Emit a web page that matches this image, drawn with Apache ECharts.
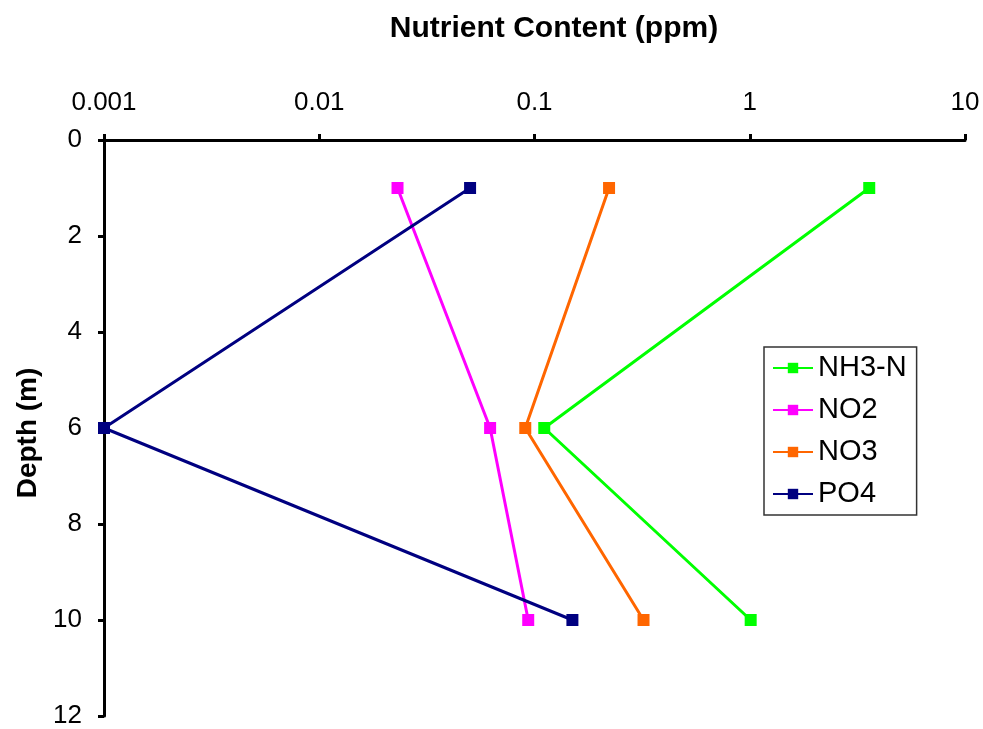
<!DOCTYPE html>
<html>
<head>
<meta charset="utf-8">
<script src="https://cdn.jsdelivr.net/npm/echarts@6/dist/echarts.min.js"></script>
<style>
  html, body { margin: 0; padding: 0; background: #fff; }
  #chart { width: 983px; height: 729px; }
</style>
</head>
<body>
<div id="chart"></div>
<script>
// Sampling depths (m)
const depths = [1, 6, 10];

// Nutrient concentrations (ppm) at each depth
const nh3n = [3.59, 0.111, 1.01];
const no2 = [0.0231, 0.0622, 0.0935];
const no3 = [0.222, 0.0906, 0.321];
const po4 = [0.0502, 0.001, 0.150];

const seriesNames = ['NH3-N', 'NO2', 'NO3', 'PO4'];
const seriesColors = ['#00ff00', '#ff00ff', '#ff6600', '#000080'];
const seriesValues = [nh3n, no2, no3, po4];

// Tick labels for the log concentration axis and the depth axis
const xTickLabels = ['0.001', '0.01', '0.1', '1', '10'];
const yTickLabels = ['0', '2', '4', '6', '8', '10', '12'];

const FONT = 'Liberation Sans, Arial, sans-serif';

const chart = echarts.init(document.getElementById('chart'), null, { renderer: 'canvas' });

const series = seriesNames.map((name, i) => ({
  name: name,
  type: 'line',
  data: depths.map((d, j) => [seriesValues[i][j], d]),
  symbol: 'rect',
  symbolSize: 12,
  lineStyle: { color: seriesColors[i], width: 3 },
  itemStyle: { color: seriesColors[i] },
  animation: false
}));

chart.setOption({
  backgroundColor: '#fff',
  animation: false,
  title: {
    text: 'Nutrient Content (ppm)',
    left: 549,
    textAlign: 'center',
    top: 9,
    textStyle: { fontFamily: FONT, fontSize: 30, fontWeight: 'bold', color: '#000' }
  },
  grid: { left: 104, right: 18, top: 140, bottom: 12, containLabel: false },
  xAxis: {
    type: 'log',
    logBase: 10,
    min: 0.001,
    max: 10,
    position: 'top',
    splitLine: { show: false },
    minorTick: { show: false },
    axisLine: { lineStyle: { color: '#000', width: 3 } },
    axisTick: { inside: false, length: 6, lineStyle: { color: '#000', width: 3 } },
    axisLabel: {
      margin: 24,
      color: '#000',
      fontFamily: FONT,
      fontSize: 26,
      formatter: (v, idx) => xTickLabels[idx]
    }
  },
  yAxis: {
    type: 'value',
    inverse: true,
    min: 0,
    max: 12,
    interval: 2,
    name: 'Depth (m)',
    nameLocation: 'middle',
    nameRotate: 90,
    nameGap: 62,
    nameTextStyle: { fontFamily: FONT, fontSize: 28, fontWeight: 'bold', color: '#000', padding: [0, 10, 0, 0] },
    splitLine: { show: false },
    axisLine: { lineStyle: { color: '#000', width: 3 } },
    axisTick: { inside: false, length: 6, lineStyle: { color: '#000', width: 3 } },
    axisLabel: {
      margin: 22,
      color: '#000',
      fontFamily: FONT,
      fontSize: 26,
      formatter: (v, idx) => yTickLabels[idx]
    }
  },
  legend: {
    orient: 'vertical',
    left: 764,
    top: 347,
    width: 153,
    padding: [6, 10, 6, 8],
    itemWidth: 40,
    itemHeight: 13,
    itemGap: 12,
    backgroundColor: '#fff',
    borderColor: '#333',
    borderWidth: 1.5,
    borderRadius: 0,
    data: seriesNames,
    textStyle: { fontFamily: FONT, fontSize: 29, lineHeight: 30, color: '#000' }
  },
  series: series
});
</script>
</body>
</html>
